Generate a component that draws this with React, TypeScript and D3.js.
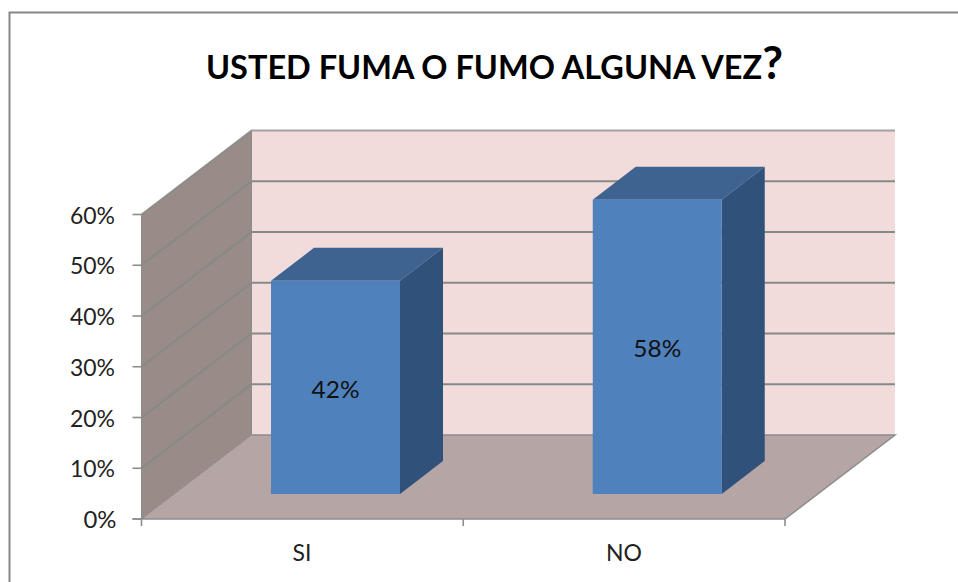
import React from "react";
import * as d3 from "d3";

const categories = ["SI", "NO"];
const values = [0.42, 0.58];
const valueLabels = ["42%", "58%"];
const yTicks = [0, 0.1, 0.2, 0.3, 0.4, 0.5, 0.6];
const titleMain = "USTED FUMA O FUMO ALGUNA VEZ";
const titleEnd = "?";

const W = 958, H = 582;
const FONT = "Lato, 'Open Sans', 'Noto Sans', 'DejaVu Sans', sans-serif";
const y = d3.scaleLinear().domain([0, 0.6]).range([519, 214.5]);
const x = d3.scaleBand().domain(categories).range([141.5, 785]).paddingInner(0).paddingOuter(0);
const depth = { dx: 110, dy: -84 };
const barDepth = { dx: 43, dy: -33 };
const barFront = { dy: -25 };
const poly = (pts: [number, number][]) => d3.line()(pts)! + "Z";
const axisC = "#8c8c8c";
const gridC = "#858a86";

export default function App() {
  const x0 = x.range()[0], x1 = x.range()[1], yb = y(0), yt = y(0.6);
  const bw = x.bandwidth();
  return (
    <svg width={W} height={H} style={{ position: "absolute", left: 0, top: 0, display: "block" }} fontFamily={FONT}>
      <rect x={0} y={0} width={W} height={H} fill="#fff" />
      <path d={`M9.5,${H}L9.5,12.5L${W},12.5`} fill="none" stroke="#868686" strokeWidth={2} />
      <text x={206} y={79} fontSize={33} fontWeight={700} fill="#000" textLength={577} lengthAdjust="spacingAndGlyphs">
        {titleMain}
        <tspan fontSize={46}>{titleEnd}</tspan>
      </text>

      {/* back wall */}
      <path d={poly([[x0 + depth.dx, yt + depth.dy], [x1 + depth.dx, yt + depth.dy], [x1 + depth.dx, yb + depth.dy], [x0 + depth.dx, yb + depth.dy]])} fill="#f2dcdb" />
      {/* side wall */}
      <path d={poly([[x0, yb], [x0, yt], [x0 + depth.dx, yt + depth.dy], [x0 + depth.dx, yb + depth.dy]])} fill="#988b88" />
      {/* floor */}
      <path d={poly([[x0, yb], [x1, yb], [x1 + depth.dx, yb + depth.dy], [x0 + depth.dx, yb + depth.dy]])} fill="#b5a6a5" />

      {yTicks.map((t) => (
        <g key={t}>
          {t > 0 && (
            <path d={`M${x0},${y(t)}L${x0 + depth.dx},${y(t) + depth.dy}L${x1 + depth.dx},${y(t) + depth.dy}`} fill="none" stroke={gridC} strokeWidth={1.8} strokeOpacity={t === 0.6 ? 0.75 : 1} />
          )}
          <line x1={x0 - 9} x2={x0} y1={y(t)} y2={y(t)} stroke={axisC} strokeWidth={1.6} />
          <text x={t === 0 ? 116.5 : 115} y={y(t) + 9} textAnchor="end" fontSize={24} fill="#222" textLength={t === 0 ? 33 : 45} lengthAdjust="spacingAndGlyphs">{d3.format(".0%")(t)}</text>
        </g>
      ))}
      <path d={`M${x0},${yb}L${x0},${yt}L${x0 + depth.dx},${yt + depth.dy}L${x0 + depth.dx},${yb + depth.dy}L${x0},${yb}`} fill="none" stroke={axisC} strokeWidth={1} />
      <path d={`M${x0 + depth.dx},${yb + depth.dy}L${x1 + depth.dx},${yb + depth.dy}L${x1},${yb}`} fill="none" stroke={axisC} strokeWidth={1.5} />

      {categories.map((c, i) => {
        const left = x(c)! + 129.5;
        const w = 129;
        const base = yb + barFront.dy;
        const top = base - (yb - y(values[i]));
        return (
          <g key={c}>
            <path d={poly([[left, top], [left + w, top], [left + w + barDepth.dx, top + barDepth.dy], [left + barDepth.dx, top + barDepth.dy]])} fill="#3e6391" />
            <path d={poly([[left + w, top], [left + w + barDepth.dx, top + barDepth.dy], [left + w + barDepth.dx, base + barDepth.dy], [left + w, base]])} fill="#30527a" />
            <rect x={left} y={top} width={w} height={base - top} fill="#4f81bd" />
            <text x={left + w / 2} y={(top + base) / 2 + (i === 0 ? 11 : 10)} textAnchor="middle" fontSize={24} fill="#111" textLength={48} lengthAdjust="spacingAndGlyphs">{valueLabels[i]}</text>
          </g>
        );
      })}

      <path d={`M${x0 - 9},${yb}L${x1},${yb}`} stroke={axisC} strokeWidth={1.6} fill="none" />
      {[x0, x0 + bw, x1].map((v) => (
        <line key={v} x1={v} x2={v} y1={yb} y2={yb + 7} stroke={axisC} strokeWidth={1.6} />
      ))}
      {categories.map((c) => (
        <text key={c} x={c === "SI" ? 302 : 624} y={561} textAnchor="middle" fontSize={23} fill="#222">{c}</text>
      ))}
    </svg>
  );
}
